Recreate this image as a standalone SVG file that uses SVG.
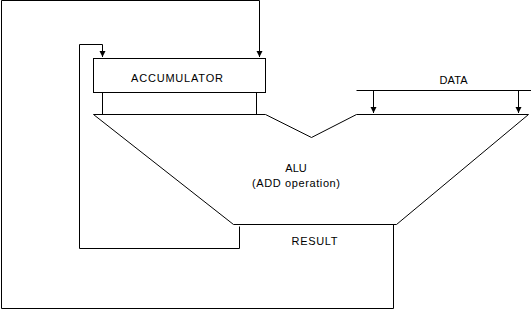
<svg xmlns="http://www.w3.org/2000/svg" width="531" height="310" viewBox="0 0 531 310">
<style>
.ln{fill:none;stroke:#000;stroke-width:1}
.t{font-family:"Liberation Sans",Arial,sans-serif;font-size:11px;fill:#000;text-anchor:middle}
</style>
<defs>
<marker id="ad" viewBox="0 0 7 7" refX="3.5" refY="7" markerWidth="7" markerHeight="7" markerUnits="userSpaceOnUse" orient="0">
<path d="M0.5,1 L6.5,1 L3.5,7 Z" fill="#000"/>
</marker>
</defs>
<rect width="531" height="310" fill="#fff"/>
<g id="accumulator">
<rect class="ln" x="93.5" y="58.5" width="172" height="34"/>
<text class="t" x="177" y="82" textLength="92">ACCUMULATOR</text>
</g>
<g id="alu">
<path class="ln" d="M93.5,114.5 L265.5,114.5 L311.5,137.5 L356.5,114.5 L528.5,114.5 L396.5,224.5 L233.5,224.5 Z"/>
<text class="t" x="296" y="172">ALU</text>
<text class="t" x="296" y="187" textLength="88">(ADD operation)</text>
</g>
<g id="result">
<text class="t" x="314.5" y="245" textLength="46">RESULT</text>
</g>
<g id="data">
<text class="t" x="453.5" y="84" textLength="28">DATA</text>
</g>
<g id="connectors">
<path class="ln" d="M102.5,92.5 V114.5 M256.5,92.5 V114.5"/>
<path class="ln" d="M356.5,90.5 H531"/>
<path class="ln" d="M373.5,90.5 V113" marker-end="url(#ad)"/>
<path class="ln" d="M518.5,90.5 V113" marker-end="url(#ad)"/>
<path class="ln" d="M239.5,226.5 V248.5 H79.5 V44.5 H102.5 V57" marker-end="url(#ad)"/>
<path class="ln" d="M393.5,224.5 V308.5 H1.5 V0.5 H259.5 V57" marker-end="url(#ad)"/>
</g>
</svg>
